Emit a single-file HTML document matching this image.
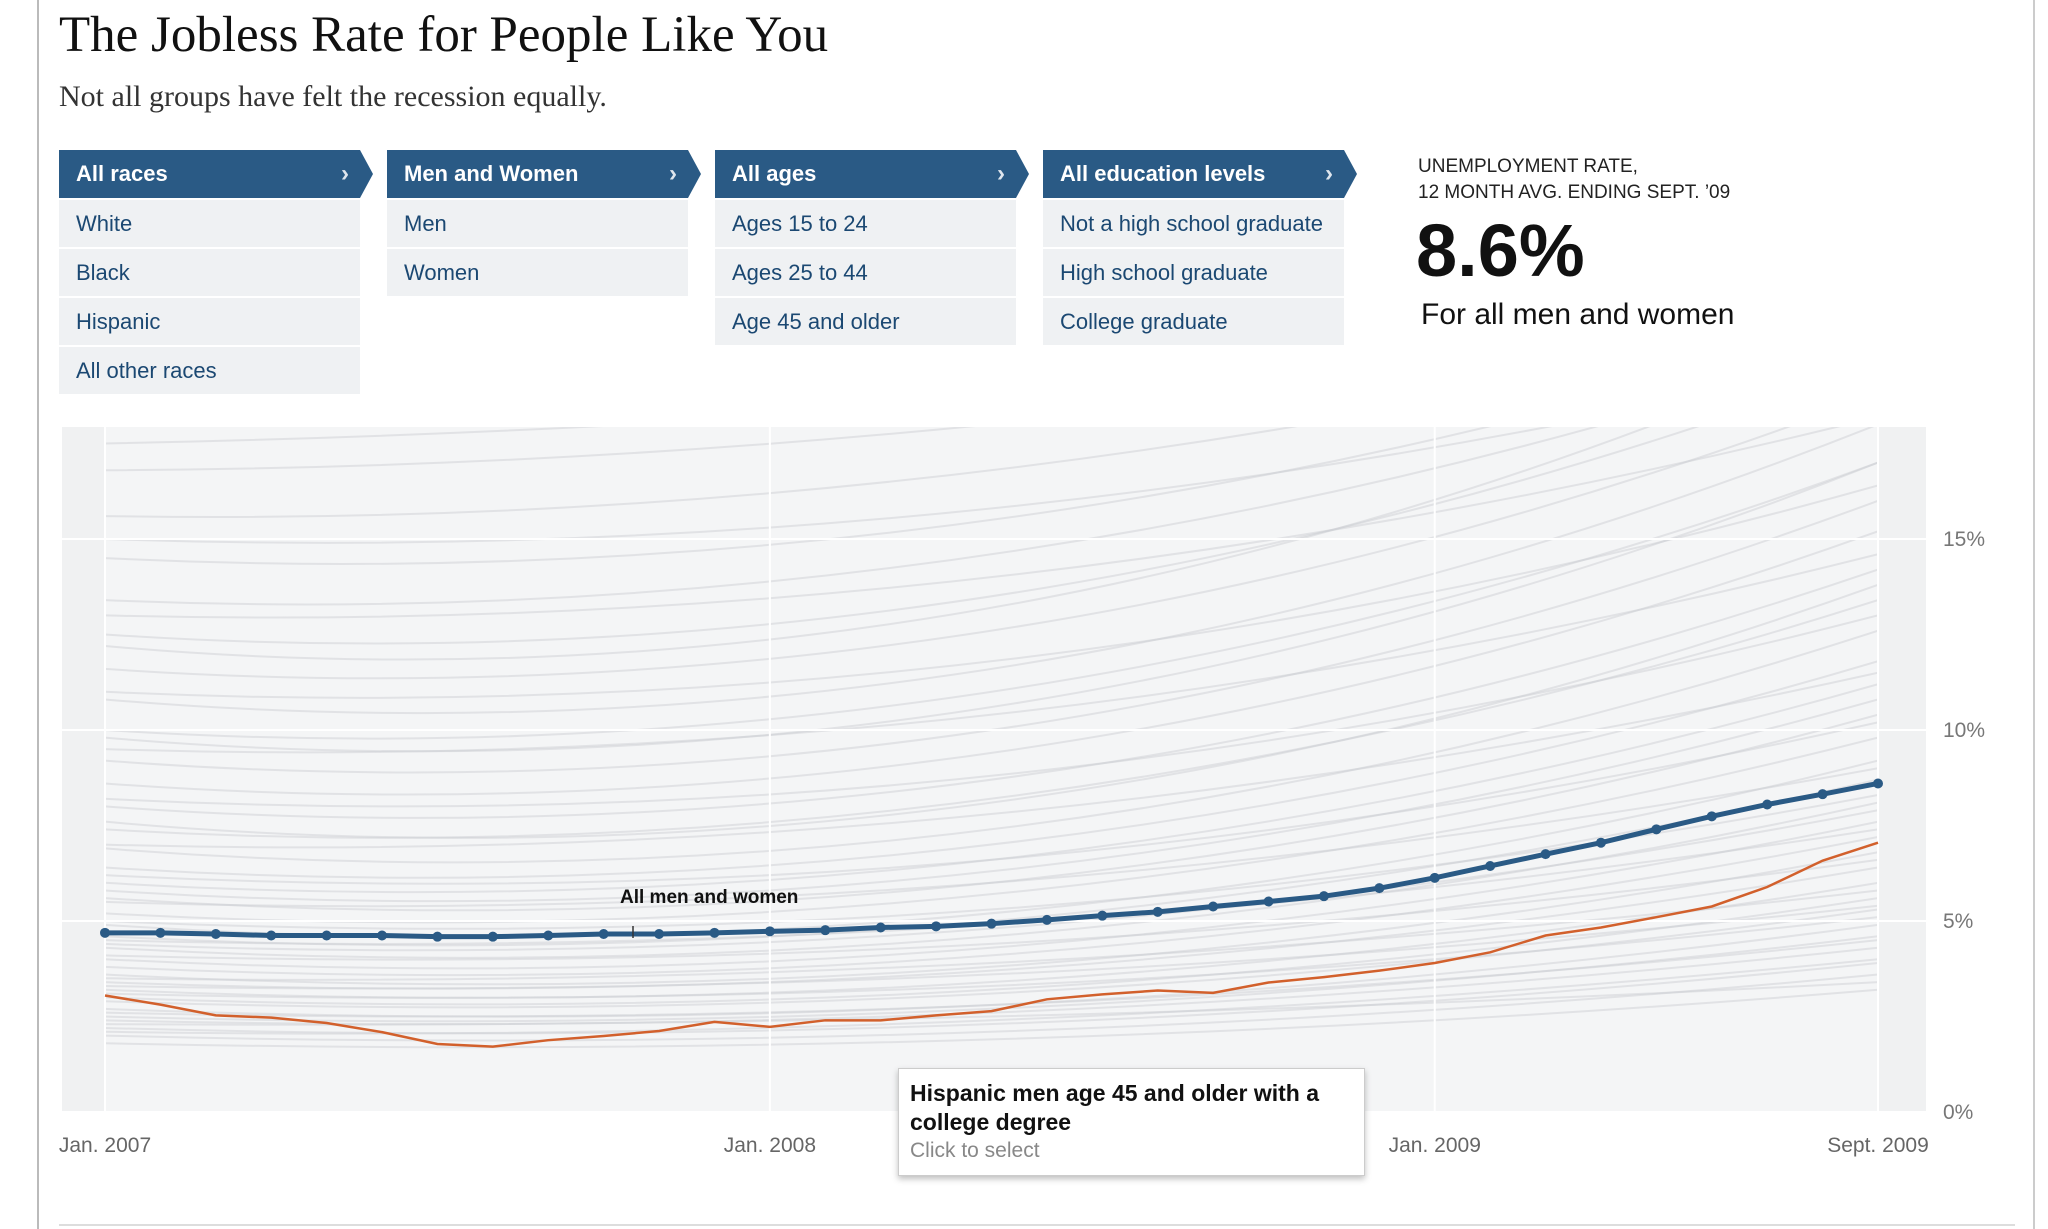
<!DOCTYPE html>
<html><head><meta charset="utf-8">
<style>
body{margin:0;width:2048px;height:1229px;background:#fff;position:relative;overflow:hidden;font-family:"Liberation Sans",sans-serif;}
.abs{position:absolute;}
.title{left:59px;top:6px;font-family:"Liberation Serif",serif;font-size:51px;color:#111;white-space:nowrap;}
.sub{left:59px;top:80px;font-family:"Liberation Serif",serif;font-size:30px;color:#333;white-space:nowrap;}
.hdr{height:48px;background:#2a5a85;color:#fff;font-weight:bold;font-size:22px;line-height:48px;padding-left:17px;box-sizing:border-box;clip-path:polygon(0 0,301px 0,314px 24px,301px 48px,0 48px);width:314px;}
.hdr span{position:absolute;left:282px;top:0;font-weight:bold;font-size:24px;color:#dfe6ee;}
.row{height:47px;width:301px;background:#eff1f3;color:#1b4872;font-size:22px;line-height:47px;padding-left:17px;box-sizing:border-box;}
</style></head><body>
<div class="abs" style="left:37px;top:0;width:2px;height:1229px;background:#bbb"></div>
<div class="abs" style="left:2033px;top:0;width:2px;height:1229px;background:#ccc"></div>
<div class="abs" style="left:59px;top:1224px;width:1956px;height:2px;background:#ddd"></div>
<div class="abs title">The Jobless Rate for People Like You</div>
<div class="abs sub">Not all groups have felt the recession equally.</div>

<div class="abs hdr" style="left:59px;top:150px">All races<span>›</span></div>
<div class="abs row" style="left:59px;top:200px">White</div>
<div class="abs row" style="left:59px;top:249px">Black</div>
<div class="abs row" style="left:59px;top:298px">Hispanic</div>
<div class="abs row" style="left:59px;top:347px">All other races</div>

<div class="abs hdr" style="left:387px;top:150px">Men and Women<span>›</span></div>
<div class="abs row" style="left:387px;top:200px">Men</div>
<div class="abs row" style="left:387px;top:249px">Women</div>

<div class="abs hdr" style="left:715px;top:150px">All ages<span>›</span></div>
<div class="abs row" style="left:715px;top:200px">Ages 15 to 24</div>
<div class="abs row" style="left:715px;top:249px">Ages 25 to 44</div>
<div class="abs row" style="left:715px;top:298px">Age 45 and older</div>

<div class="abs hdr" style="left:1043px;top:150px">All education levels<span>›</span></div>
<div class="abs row" style="left:1043px;top:200px">Not a high school graduate</div>
<div class="abs row" style="left:1043px;top:249px">High school graduate</div>
<div class="abs row" style="left:1043px;top:298px">College graduate</div>

<div class="abs" style="left:1418px;top:154px;font-size:19px;line-height:26px;color:#222">UNEMPLOYMENT RATE,<br>12 MONTH AVG. ENDING SEPT. ’09</div>
<div class="abs" style="left:1416px;top:208px;font-size:74px;font-weight:bold;line-height:86px;color:#111">8.6%</div>
<div class="abs" style="left:1421px;top:296px;font-size:30px;line-height:38px;color:#111">For all men and women</div>

<svg class="abs" style="left:0;top:0" width="2048" height="1229" id="chart"></svg>

<div class="abs" style="left:898px;top:1068px;width:467px;height:108px;background:#fff;border:1px solid #ccc;box-shadow:0 3px 6px rgba(0,0,0,.25);box-sizing:border-box;padding:10px 11px">
<div style="font-weight:bold;font-size:23px;line-height:29px;color:#111">Hispanic men age 45 and older with a college degree</div>
<div style="font-size:21px;line-height:28px;color:#888">Click to select</div>
</div>

<script>
const months = 33;
const blueRates = [4.69,4.69,4.66,4.62,4.62,4.62,4.59,4.59,4.62,4.66,4.66,4.69,4.73,4.76,4.83,4.86,4.93,5.03,5.14,5.24,5.38,5.51,5.65,5.86,6.13,6.44,6.75,7.05,7.40,7.74,8.05,8.32,8.60];
const orangeRates = [3.05,2.81,2.53,2.47,2.33,2.09,1.78,1.71,1.88,1.99,2.12,2.36,2.23,2.40,2.40,2.53,2.64,2.95,3.08,3.18,3.12,3.39,3.53,3.70,3.90,4.18,4.62,4.83,5.10,5.38,5.89,6.58,7.05];
const yTicks = [0,5,10,15];
const yTickLabels = ["0%","5%","10%","15%"];
const xTickMonths = [0,12,24,32];
const xTickLabels = ["Jan. 2007","Jan. 2008","Jan. 2009","Sept. 2009"];
const bgStart = [1.8,2.0,2.2,2.4,2.5,2.7,2.9,3.0,3.2,3.4,3.6,3.8,4.0,4.3,4.6,4.9,5.2,5.6,6.0,6.4,6.9,7.4,8.0,8.6,9.2,10.0,10.8,11.6,12.5,13.4,14.5,15.6,16.8,18.0,19.5,21.0,2.1,2.6,3.1,3.5,4.1,4.5,5.0,5.5,6.2,7.0,8.2,9.5,11.0,13.0,15.0,17.5,20.0,2.3,3.3,4.4,5.8,7.6,9.8,12.2];
const bgMid   = [1.9,2.1,2.3,2.6,2.7,2.8,3.1,3.2,3.4,3.7,3.8,4.1,4.3,4.6,5.0,5.2,5.7,6.0,6.6,7.0,7.4,8.2,8.7,9.4,10.0,11.0,11.6,12.6,13.5,14.6,15.5,16.8,18.0,19.0,20.5,21.2,2.4,2.8,3.3,3.9,4.4,4.9,5.3,6.0,6.6,7.8,8.8,10.4,11.8,14.0,15.8,18.6,20.8,2.5,3.6,4.8,6.3,8.1,10.6,13.2];
const bgEnd   = [3.2,3.6,3.9,4.3,4.6,4.9,5.3,5.6,6.0,6.4,6.8,7.2,7.6,8.1,8.7,9.2,9.8,10.4,11.2,11.8,12.6,13.4,14.2,15.2,16.0,17.0,18.0,18.8,19.6,20.2,20.8,21.2,21.4,21.6,21.8,22.0,4.0,4.5,5.1,5.8,6.6,7.4,8.3,9.0,10.2,11.5,13.0,14.6,16.4,18.2,19.8,21.0,21.6,3.4,5.4,7.9,10.8,13.8,17.0,20.4];

const svg = document.getElementById('chart');
const NS = 'http://www.w3.org/2000/svg';
const X0 = 105, X1 = 1878, Y0 = 1112, PER = 38.2;
function xScale(m){ return X0 + (X1 - X0) * m / (months - 1); }
function yScale(v){ return Y0 - v * PER; }
function mk(tag, attrs){ const e = document.createElementNS(NS, tag); for (const k in attrs) e.setAttribute(k, attrs[k]); svg.appendChild(e); return e; }

const bg = mk('rect',{x:62,y:427,width:1864,height:684,fill:'#f0f1f2'});


const bg2 = mk('rect',{x:105,y:427,width:1773,height:684,fill:'#f4f5f6'});



const clip = mk('clipPath',{id:'pc'});
const cr = document.createElementNS(NS,'rect'); cr.setAttribute('x',105); cr.setAttribute('y',427); cr.setAttribute('width',1773); cr.setAttribute('height',684); clip.appendChild(cr);
for (let i = 0; i < bgStart.length; i++) {
  const x0 = xScale(0), y0 = yScale(bgStart[i]);
  const x1 = xScale(16), y1 = yScale(bgMid[i]);
  const x2 = xScale(32), y2 = yScale(bgEnd[i]);
  const cx = 2*x1 - (x0+x2)/2, cy = 2*y1 - (y0+y2)/2;
  const p = mk('path',{d:`M${x0},${y0} Q${cx},${cy} ${x2},${y2}`,fill:'none',stroke:'#c9ccd0','stroke-opacity':0.45,'stroke-width':2,'clip-path':'url(#pc)'});
  
  
}

yTicks.forEach((t, i) => {
  if (t > 0) {
    const g = mk('line',{x1:62,x2:1926,y1:yScale(t),y2:yScale(t),stroke:'#fff','stroke-width':2});
    
    
  }
  const l = mk('text',{x:1943,y:yScale(t)+7,'font-size':21,fill:'#777','font-family':'Liberation Sans, sans-serif'});
  l.textContent = yTickLabels[i];
  
  
});
xTickMonths.forEach((m, i) => {
  const g = mk('line',{x1:xScale(m),x2:xScale(m),y1:427,y2:1111,stroke:'#fff','stroke-width':2});
  
  
  const l = mk('text',{x:xScale(m),y:1152,'font-size':21,fill:'#666','text-anchor':'middle','font-family':'Liberation Sans, sans-serif'});
  l.textContent = xTickLabels[i];
  
  
});

function pts(arr){ return arr.map((v,i)=>xScale(i)+','+yScale(v)).join(' '); }
const ol = mk('polyline',{points:pts(orangeRates),fill:'none',stroke:'#d2602c','stroke-width':2.5});


const bl = mk('polyline',{points:pts(blueRates),fill:'none',stroke:'#2a5a85','stroke-width':5});


blueRates.forEach((v,i)=>{
  const c = mk('circle',{cx:xScale(i),cy:yScale(v),r:5,fill:'#2a5a85'});
  
  
});
const tk = mk('line',{x1:633,x2:633,y1:926,y2:938,stroke:'#333','stroke-width':1.5});


const an = mk('text',{x:620,y:903,'font-size':19,'font-weight':'bold',fill:'#111','font-family':'Liberation Sans, sans-serif'});
an.textContent = 'All men and women';


</script>
</body></html>
